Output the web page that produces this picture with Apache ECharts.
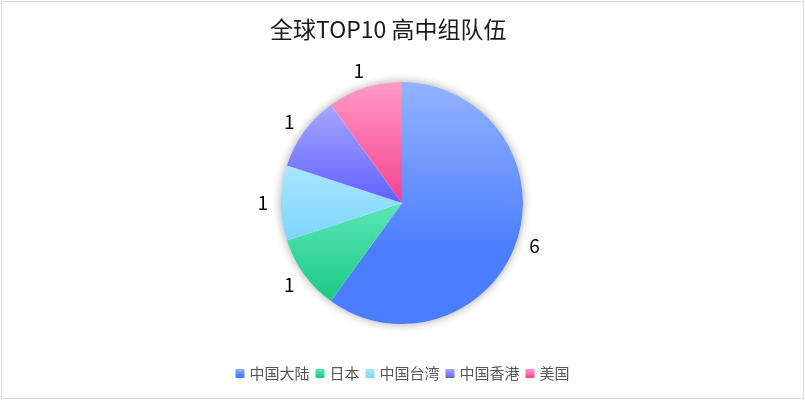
<!DOCTYPE html>
<html><head><meta charset="utf-8">
<script src="https://cdn.jsdelivr.net/npm/echarts@6/dist/echarts.min.js"></script>
<style>
html,body{margin:0;padding:0;background:#fff;}
#frame{position:absolute;left:1px;top:1px;width:801px;height:396px;border:1px solid #d9d9d9;}
#chart{position:absolute;left:0;top:0;width:805px;height:410px;}
</style></head><body>
<div id="frame"></div>
<div id="chart"></div>
<script>
const titleText = '全球TOP10 高中组队伍';
const categories = ['中国大陆', '日本', '中国台湾', '中国香港', '美国'];
const values = [6, 1, 1, 1, 1];
const gradientTop = ['#93b3ff', '#5ae6b6', '#a8e6ff', '#a6a6ff', '#ff9ac6'];
const gradientBottom = ['#4a7dff', '#1bca86', '#7dd5ff', '#6060ff', '#f5428f'];

const FONT = '"Noto Sans CJK SC", "Noto Sans", sans-serif';
const PIE_CENTER = [402, 203];
const PIE_RADIUS = 121;

const chart = echarts.init(document.getElementById('chart'), null, {renderer: 'canvas'});
const option = {
  animation: false,
  title: {
    text: titleText,
    left: 265,
    top: 13,
    textStyle: {fontSize: 23, fontWeight: 'normal', color: '#1a1a1a', fontFamily: FONT}
  },
  legend: {
    data: categories,
    left: 'center',
    top: 361,
    icon: 'rect',
    itemWidth: 9,
    itemHeight: 9,
    itemGap: 6,
    textStyle: {fontSize: 15, color: '#555', fontFamily: FONT}
  },
  series: [
    {
      type: 'pie',
      center: PIE_CENTER,
      radius: PIE_RADIUS,
      silent: true,
      label: {show: false},
      labelLine: {show: false},
      data: [{name: '', value: 1, itemStyle: {color: '#fff', shadowBlur: 10, shadowColor: 'rgba(0,0,0,0.35)'}}]
    },
    {
      type: 'pie',
      center: PIE_CENTER,
      radius: PIE_RADIUS,
      startAngle: 90,
      clockwise: true,
      avoidLabelOverlap: false,
      emphasis: {scale: false},
      label: {
        show: true,
        position: 'outside',
        formatter: '{c}',
        fontSize: 19,
        color: '#000',
        fontFamily: FONT,
        distanceToLabelLine: -5
      },
      labelLine: {show: false, length: 18, length2: 0},
      data: categories.map((name, i) => ({
        name: name,
        value: values[i],
        itemStyle: {
          color: new echarts.graphic.LinearGradient(0, 0, 0, 1, [
            {offset: 0, color: gradientTop[i]},
            {offset: i === 0 ? 0.7 : 1, color: gradientBottom[i]},
            {offset: 1, color: gradientBottom[i]}
          ])
        }
      }))
    }
  ]
};
chart.setOption(option);
</script>
</body></html>
